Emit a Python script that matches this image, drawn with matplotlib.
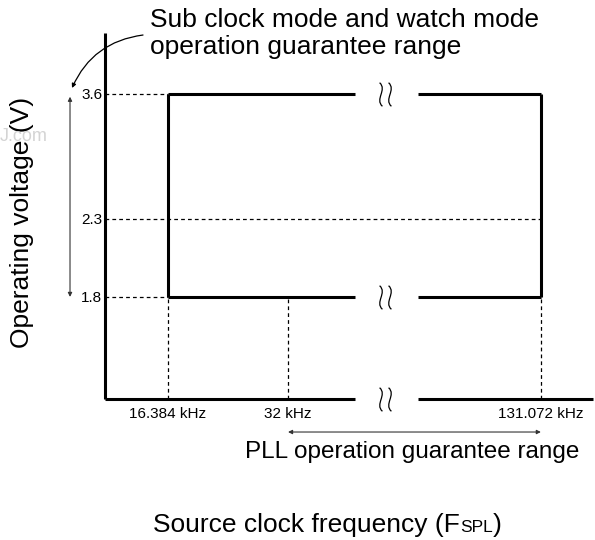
"""
Operating voltage vs. source clock frequency (F_SPL) — the guarantee-range
schematic from the datasheet. Axes are not to scale in the original, so the
x axis is drawn log2 and the y axis on a power scale to land the levels where
the datasheet puts them.
"""

import matplotlib
matplotlib.use("Agg")
import matplotlib.pyplot as plt
import matplotlib.transforms as mtrans
import numpy as np
from matplotlib.offsetbox import AnnotationBbox, HPacker, TextArea
from matplotlib.path import Path
from matplotlib.ticker import NullLocator

plt.rcParams["font.family"] = ["Liberation Sans", "DejaVu Sans"]

# --- data -------------------------------------------------------------------
VOLT_TICKS = [1.8, 2.3, 3.6]                 # V
VOLT_LABELS = ["1.8", "2.3", "3.6"]
V_LOW, V_MID, V_HIGH = 1.8, 2.3, 3.6

FREQ_TICKS = [16.384, 32, 131.072]           # kHz
FREQ_LABELS = ["16.384 kHz", "32 kHz", "131.072 kHz"]
F_SUB, F_PLL, F_MAX = 16.384, 32, 131.072

BREAK = (46.5, 66.0)                         # kHz, gap in the axis / box lines
BREAK_MID = 55.0

XLIM = (11.53, 175.3)
YLIM = (1.3505, 4.633)

THICK = 2.2
DASH = (0, (3, 2.5))


def _fwd(v):
    v = np.clip(np.asarray(v, dtype=float), 1e-6, None)
    return -v ** -0.4


def _inv(y):
    y = np.clip(-np.asarray(y, dtype=float), 1e-6, None)
    return y ** -2.5


def break_marker():
    """Two thin wavy strokes, the usual 'axis cut' sign, as an open marker path."""
    verts, codes = [], []
    for dx in (-0.38, 0.38):
        verts += [(dx - 0.12, 1.0), (dx + 0.55, 0.4), (dx - 0.55, -0.4), (dx + 0.12, -1.0)]
        codes += [Path.MOVETO, Path.CURVE4, Path.CURVE4, Path.CURVE4]
    return Path(verts, codes)


fig = plt.figure(figsize=(5.95, 5.4), dpi=100)
ax = fig.add_axes([105 / 595, 1 - 399 / 540, 488 / 595, 366 / 540])
ax.set_xscale("log", base=2)
ax.set_yscale("function", functions=(_fwd, _inv))
ax.set_xlim(*XLIM)
ax.set_ylim(*YLIM)
for s in ax.spines.values():
    s.set_visible(False)

ax.set_xticks(FREQ_TICKS, FREQ_LABELS)
ax.set_yticks(VOLT_TICKS, VOLT_LABELS)
ax.xaxis.set_minor_locator(NullLocator())
ax.yaxis.set_minor_locator(NullLocator())
ax.tick_params(axis="x", length=0, pad=6, labelsize=11)
ax.tick_params(axis="y", length=0, pad=2, labelsize=11)

x0, x1 = XLIM
y0, y1 = YLIM
solid = dict(color="black", lw=THICK, solid_capstyle="butt", clip_on=False)
dashed = dict(color="black", lw=0.9, ls=DASH, clip_on=False)

# axes (bottom one broken)
ax.plot([x0, x0], [y0, y1], **solid)
ax.plot([x0, BREAK[0]], [y0, y0], **solid)
ax.plot([BREAK[1], x1], [y0, y0], **solid)

# guide dashes
ax.plot([x0, F_SUB], [V_HIGH, V_HIGH], **dashed)
ax.plot([x0, F_SUB], [V_LOW, V_LOW], **dashed)
ax.plot([x0, F_MAX], [V_MID, V_MID], **dashed)
for f in FREQ_TICKS:
    ax.plot([f, f], [y0, V_LOW], **dashed)

# guarantee box
for v in (V_HIGH, V_LOW):
    ax.plot([F_SUB, BREAK[0]], [v, v], **solid)
    ax.plot([BREAK[1], F_MAX], [v, v], **solid)
ax.plot([F_SUB, F_SUB], [V_LOW, V_HIGH], **solid)
ax.plot([F_MAX, F_MAX], [V_LOW, V_HIGH], **solid)

# axis-cut signs in the gaps
ax.plot([BREAK_MID] * 3, [V_HIGH, V_LOW, y0], ls="none", marker=break_marker(),
        markersize=17, mfc="none", mec="black", mew=0.9, clip_on=False)

# voltage range arrow on the left, curved callout from the note
yblend = mtrans.blended_transform_factory(ax.transAxes, ax.transData)
ax.annotate("", xy=(-0.0717, V_LOW), xytext=(-0.0717, V_HIGH),
            xycoords=yblend, textcoords=yblend,
            arrowprops=dict(arrowstyle="<|-|>", color="#333333", lw=0.8,
                            mutation_scale=6, shrinkA=2, shrinkB=0))
ax.annotate("", xy=(-0.0676, 0.8497), xytext=(0.0779, 0.9945),
            xycoords="axes fraction",
            arrowprops=dict(arrowstyle="-|>", color="black", lw=0.9,
                            mutation_scale=6, shrinkA=0, shrinkB=0,
                            connectionstyle="arc3,rad=0.28"))
ax.text(0.0922, 1.0164, "Sub clock mode and watch mode", transform=ax.transAxes,
        fontsize=19, ha="left", va="baseline")
ax.text(0.0922, 0.9426, "operation guarantee range", transform=ax.transAxes,
        fontsize=19, ha="left", va="baseline")

# PLL range arrow under the x axis
xblend = mtrans.blended_transform_factory(ax.transData, ax.transAxes)
ax.annotate("", xy=(F_MAX, -0.0902), xytext=(F_PLL, -0.0902),
            xycoords=xblend, textcoords=xblend,
            arrowprops=dict(arrowstyle="<|-|>", color="#333333", lw=0.8,
                            mutation_scale=6, shrinkA=0, shrinkB=0))
ax.text(0.630, -0.1612, "PLL operation guarantee range", transform=ax.transAxes,
        fontsize=17.5, ha="center", va="baseline")

# axis titles
ax.text(-0.170, 0.4836, "Operating voltage (V)", transform=ax.transAxes,
        fontsize=19, rotation=90, ha="center", va="center")
xlabel = HPacker(children=[TextArea("Source clock frequency (F", textprops=dict(fontsize=19)),
                           TextArea("SPL", textprops=dict(fontsize=12.5)),
                           TextArea(")", textprops=dict(fontsize=19))],
                 align="baseline", pad=0, sep=0)
ax.add_artist(AnnotationBbox(xlabel, (0.4559, (399 - 537) / 366),
                             xycoords="axes fraction", box_alignment=(0.5, 0.0),
                             frameon=False, pad=0, annotation_clip=False))

# faint watermark left over in the scan
fig.text(0.0, 1 - 141 / 540, "J.com", fontsize=13, color="#d4d4d4",
         ha="left", va="baseline")

fig.savefig("out.png", dpi=100)
